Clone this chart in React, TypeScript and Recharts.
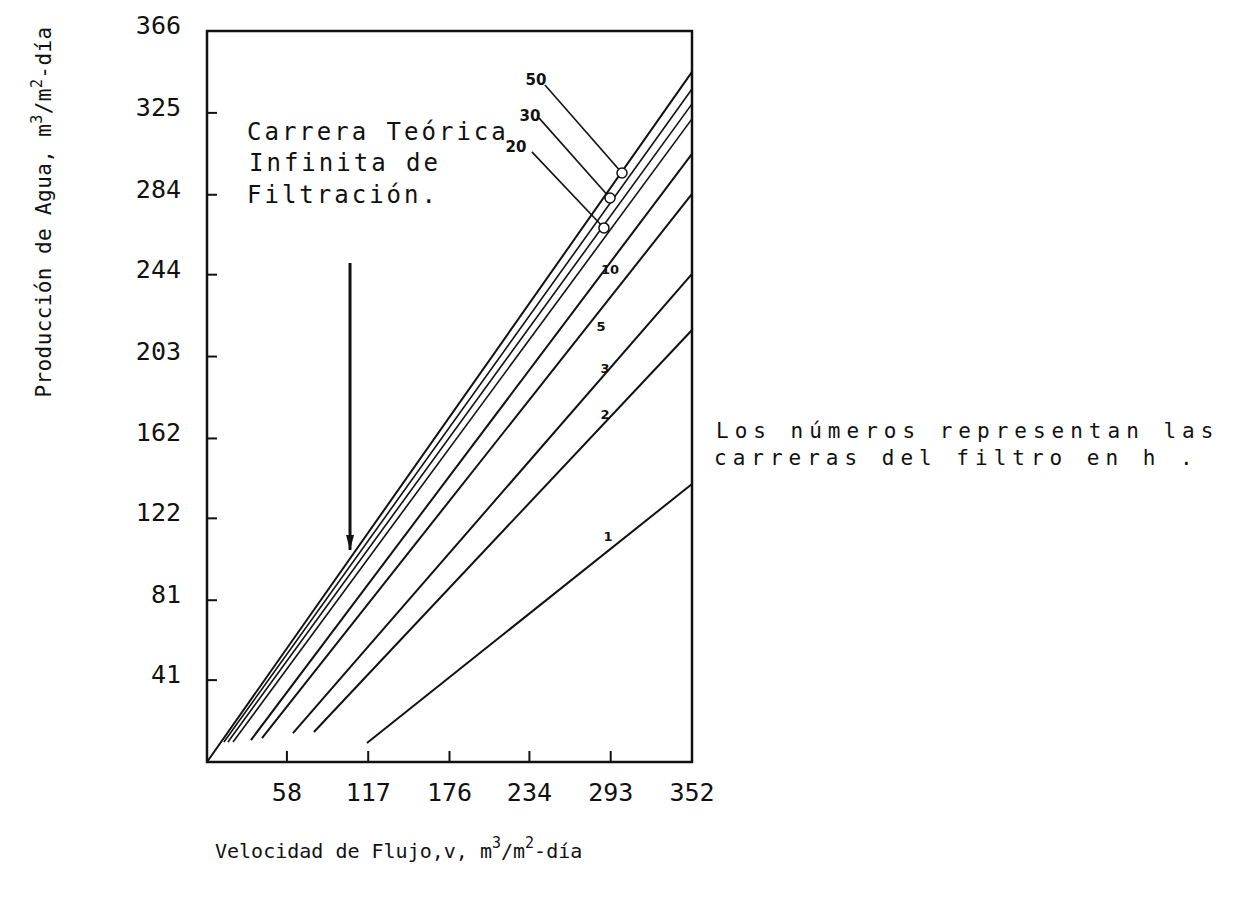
import React from 'react';
import { ComposedChart, Line, Scatter, XAxis, YAxis, ReferenceArea } from 'recharts';

// tick labels
const xTicks = [58, 117, 176, 234, 293, 352];
const yTicks = [41, 81, 122, 162, 203, 244, 284, 325, 366];

// one line per filter run (hours): start near the x axis, end at the right frame
const runInfinite = [{ v: 0, p: 0 }, { v: 352, p: 345.5 }];
const run50 = [{ v: 12.3, p: 10 }, { v: 352, p: 337 }];
const run30 = [{ v: 15.2, p: 10 }, { v: 352, p: 329.5 }];
const run20 = [{ v: 18.9, p: 10 }, { v: 352, p: 322 }];
const run10 = [{ v: 31.9, p: 11 }, { v: 352, p: 304.5 }];
const run5 = [{ v: 39.9, p: 12 }, { v: 352, p: 284.4 }];
const run3 = [{ v: 62.4, p: 14.5 }, { v: 352, p: 244.4 }];
const run2 = [{ v: 77.6, p: 15 }, { v: 352, p: 216.3 }];
const run1 = [{ v: 116.1, p: 9.5 }, { v: 352, p: 139.2 }];

const runs = [runInfinite, run50, run30, run20, run10, run5, run3, run2, run1];

// small numbers written on the lines
const runLabels = [
  { name: '10', v: 292.5, p: 246.4 },
  { name: '5', v: 285.9, p: 217.8 },
  { name: '3', v: 288.8, p: 196.8 },
  { name: '2', v: 288.8, p: 173.8 },
  { name: '1', v: 291.0, p: 112.7 },
];
const pointerLabels = [
  { name: '50', v: 238.8, p: 341.5 },
  { name: '30', v: 234.4, p: 323.5 },
  { name: '20', v: 224.2, p: 307.9 },
];
const pointer50 = [{ v: 245.3, p: 339 }, { v: 301.2, p: 294.9 }];
const pointer30 = [{ v: 240.9, p: 322.5 }, { v: 292.5, p: 282.4 }];
const pointer20 = [{ v: 235.8, p: 305.5 }, { v: 288.1, p: 267.4 }];
const arrow = [{ v: 103.8, p: 249.9 }, { v: 103.8, p: 106.2 }];

const W = 1228;
const H = 881;
const PLOT_LEFT = 199;
const PLOT_BOTTOM = 754;
const INK = '#111';
const MONO = '"DejaVu Sans Mono", monospace';

const YTick = (props: any) => {
  const { y, payload } = props;
  return (
    <g>
      <line x1={PLOT_LEFT} x2={PLOT_LEFT + 10} y1={y} y2={y} stroke={INK} strokeWidth={2} />
      <text x={PLOT_LEFT - 26} y={y + 3} textAnchor="end" fontFamily={MONO} fontSize={25} fill={INK}>
        {payload.value}
      </text>
    </g>
  );
};

const XTick = (props: any) => {
  const { x, payload } = props;
  return (
    <g>
      <line x1={x} x2={x} y1={PLOT_BOTTOM} y2={PLOT_BOTTOM - 11} stroke={INK} strokeWidth={2} />
      <text x={x} y={PLOT_BOTTOM + 39} textAnchor="middle" fontFamily={MONO} fontSize={25} fill={INK}>
        {payload.value}
      </text>
    </g>
  );
};

const circleEnd = (props: any) => {
  const { cx, cy, index } = props;
  if (index !== 1) return <g key={`c${index}`} />;
  return <circle key={`c${index}`} cx={cx} cy={cy} r={5} fill="#fff" stroke={INK} strokeWidth={1.5} />;
};

const arrowHead = (props: any) => {
  const { cx, cy, index } = props;
  if (index !== 1) return <g key={`a${index}`} />;
  return <polygon key={`a${index}`} points={`${cx - 4},${cy - 15} ${cx + 4},${cy - 15} ${cx},${cy}`} fill={INK} />;
};

const textMark = (size: number) => (props: any) => {
  const { cx, cy, payload } = props;
  return (
    <text x={cx} y={cy} textAnchor="middle" dominantBaseline="central" fontFamily='"DejaVu Sans", sans-serif' fontWeight="bold" fontSize={size} fill={INK}>
      {payload.name}
    </text>
  );
};

export default function App() {
  return (
    <div style={{ position: 'relative', width: W, height: H, background: '#fff' }}>
      <ComposedChart width={W} height={H} margin={{ top: 23, right: 544, bottom: 77, left: 139 }}>
        <XAxis
          type="number"
          dataKey="v"
          domain={[0, 352]}
          ticks={xTicks}
          interval={0}
          height={50}
          axisLine={false}
          tickLine={false}
          tick={<XTick />}
        />
        <YAxis
          type="number"
          domain={[0, 366]}
          ticks={yTicks}
          interval={0}
          width={60}
          axisLine={false}
          tickLine={false}
          tick={<YTick />}
        />
        <ReferenceArea x1={0} x2={352} y1={0} y2={366} fill="none" stroke={INK} strokeWidth={2.5} />
        {runs.map((d, i) => (
          <Line
            key={i}
            data={d}
            dataKey="p"
            type="linear"
            stroke={INK}
            strokeWidth={i >= 1 && i <= 3 ? 1.6 : 2}
            dot={false}
            isAnimationActive={false}
          />
        ))}
        {[pointer50, pointer30, pointer20].map((d, i) => (
          <Line key={`p${i}`} data={d} dataKey="p" type="linear" stroke={INK} strokeWidth={1.6} dot={circleEnd} isAnimationActive={false} />
        ))}
        <Line data={arrow} dataKey="p" type="linear" stroke={INK} strokeWidth={3} dot={arrowHead} isAnimationActive={false} />
        <Scatter data={runLabels} dataKey="p" shape={textMark(13)} isAnimationActive={false} />
        <Scatter data={pointerLabels} dataKey="p" shape={textMark(15)} isAnimationActive={false} />
      </ComposedChart>
      <svg width={W} height={H} style={{ position: 'absolute', left: 0, top: 0, pointerEvents: 'none' }}>
        <g fontFamily={MONO} fill={INK}>
          <text transform="translate(43,204) rotate(-90)" textAnchor="middle" fontSize={21} style={{ letterSpacing: '0.4px' }}>
            Producción de Agua, m<tspan dy={-9} fontSize={15}>3</tspan>
            <tspan dy={9}>/m</tspan>
            <tspan dy={-9} fontSize={15}>2</tspan>
            <tspan dy={9}>-día</tspan>
          </text>
          <text x={207} y={850} fontSize={20}>
            Velocidad de Flujo,v, m<tspan dy={-10} fontSize={15}>3</tspan>
            <tspan dy={10}>/m</tspan>
            <tspan dy={-10} fontSize={15}>2</tspan>
            <tspan dy={10}>-día</tspan>
          </text>
          <g fontSize={24} style={{ letterSpacing: '3px' }}>
            <text x={239} y={132}>Carrera Teórica</text>
            <text x={241} y={163}>Infinita de</text>
            <text x={239} y={195}>Filtración.</text>
          </g>
          <g fontSize={21} style={{ letterSpacing: '6px' }}>
            <text x={708} y={430}>Los números representan las</text>
            <text x={706} y={457}>carreras del filtro en h .</text>
          </g>
        </g>
      </svg>
    </div>
  );
}
